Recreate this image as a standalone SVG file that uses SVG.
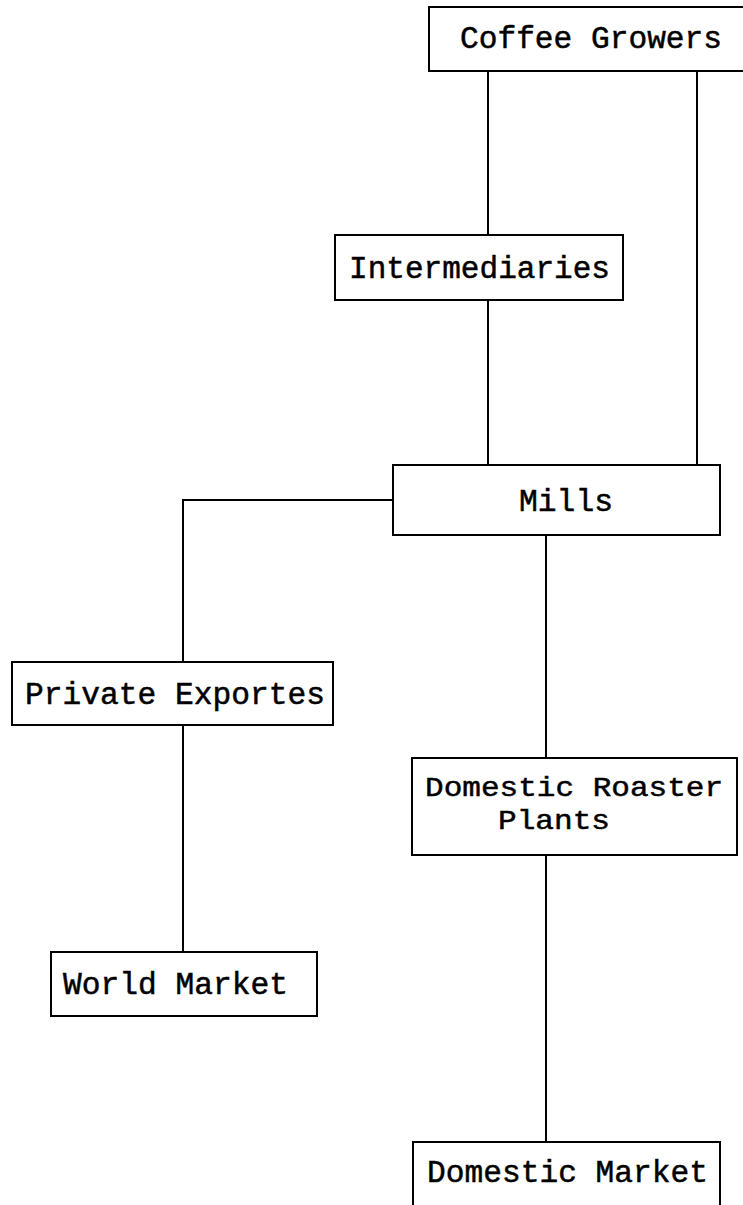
<svg xmlns="http://www.w3.org/2000/svg" width="743" height="1205" viewBox="0 0 743 1205">
<style>
.box{fill:#fff;stroke:#000;stroke-width:2}
.lbl{font-family:"Liberation Mono","Courier New",monospace;font-size:31px;fill:#000;stroke:#000;stroke-width:0.5}
.sm{font-size:28px}
.edge{stroke:#000;stroke-width:2;fill:none}
</style>
<rect width="743" height="1205" fill="#fff"/>
<g id="connectors">
<path class="edge" d="M488,71 V235"/>
<path class="edge" d="M697,71 V465"/>
<path class="edge" d="M488,300 V465"/>
<path class="edge" d="M393,500 H183 V662"/>
<path class="edge" d="M183,725 V952"/>
<path class="edge" d="M546,535 V758"/>
<path class="edge" d="M546,855 V1142"/>
</g>
<g id="coffee-growers">
<rect class="box" x="429" y="7" width="330" height="64"/>
<text class="lbl" x="460" y="48" textLength="262" lengthAdjust="spacingAndGlyphs">Coffee Growers</text>
</g>
<g id="intermediaries">
<rect class="box" x="335" y="235" width="288" height="65"/>
<text class="lbl" x="349" y="278" textLength="261" lengthAdjust="spacingAndGlyphs">Intermediaries</text>
</g>
<g id="mills">
<rect class="box" x="393" y="465" width="327" height="70"/>
<text class="lbl" x="519" y="511" textLength="94" lengthAdjust="spacingAndGlyphs">Mills</text>
</g>
<g id="private-exportes">
<rect class="box" x="12" y="662" width="321" height="63"/>
<text class="lbl" x="25" y="704" textLength="300" lengthAdjust="spacingAndGlyphs">Private Exportes</text>
</g>
<g id="world-market">
<rect class="box" x="51" y="952" width="266" height="64"/>
<text class="lbl" x="63" y="994" textLength="225" lengthAdjust="spacingAndGlyphs">World Market</text>
</g>
<g id="domestic-roaster-plants">
<rect class="box" x="412" y="758" width="325" height="97"/>
<text class="lbl sm" x="425" y="796" textLength="298" lengthAdjust="spacingAndGlyphs">Domestic Roaster</text>
<text class="lbl sm" x="498" y="829" textLength="112" lengthAdjust="spacingAndGlyphs">Plants</text>
</g>
<g id="domestic-market">
<rect class="box" x="413" y="1142" width="307" height="80"/>
<text class="lbl" x="427" y="1182" textLength="281" lengthAdjust="spacingAndGlyphs">Domestic Market</text>
</g>
</svg>
